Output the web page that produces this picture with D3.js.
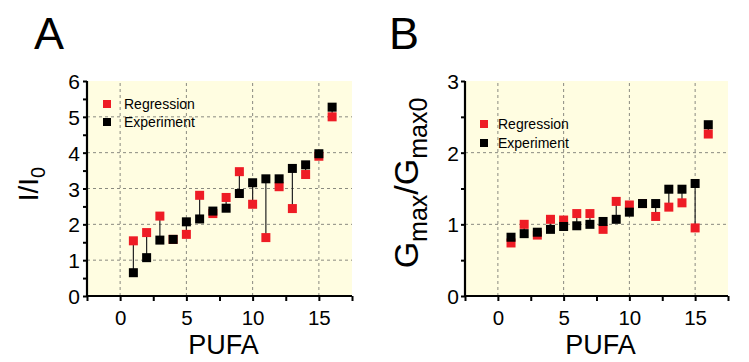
<!DOCTYPE html>
<html>
<head>
<meta charset="utf-8">
<script src="https://cdn.jsdelivr.net/npm/d3@7"></script>
<style>
  html, body { margin: 0; padding: 0; background: #ffffff; }
  svg { display: block; }
  text { font-family: "Liberation Sans", Arial, sans-serif; fill: #000; }
</style>
</head>
<body>
<svg id="chart" width="749" height="362"></svg>
<script>
// ---- data ----
const pufa = [1, 2, 3, 4, 5, 6, 7, 8, 9, 10, 11, 12, 13, 14, 15, 16];
const regressionA = [1.54, 1.77, 2.23, 1.58, 1.72, 2.81, 2.30, 2.75, 3.47, 2.56, 1.63, 3.05, 2.44, 3.39, 3.90, 5.00];
const experimentA = [0.65, 1.07, 1.56, 1.58, 2.07, 2.15, 2.37, 2.45, 2.86, 3.16, 3.27, 3.27, 3.56, 3.66, 3.97, 5.27];
const regressionB = [0.74, 1.00, 0.85, 1.07, 1.06, 1.15, 1.15, 0.93, 1.32, 1.27, 1.29, 1.11, 1.24, 1.30, 0.95, 2.26];
const experimentB = [0.82, 0.87, 0.89, 0.93, 0.97, 0.98, 1.00, 1.04, 1.07, 1.17, 1.29, 1.29, 1.49, 1.49, 1.57, 2.39];
const xTicksMajor = [0, 5, 10, 15];
const xTicksAll = [-2.5, 0, 2.5, 5, 7.5, 10, 12.5, 15, 17.5];
const yTicksA = [0, 0.5, 1, 1.5, 2, 2.5, 3, 3.5, 4, 4.5, 5, 5.5, 6];
const yTicksB = [0, 0.5, 1, 1.5, 2, 2.5, 3];
const legendLabels = ["Regression", "Experiment"];
const colors = { regression: "#ee1c25", experiment: "#000000" };

const svg = d3.select("#chart");

function panel(opts) {
  const g = svg.append("g");
  const x = d3.scaleLinear().domain([-2.5, 17.5]).range([opts.left, opts.right]);
  const y = d3.scaleLinear().domain([0, opts.ymax]).range([296, 81]);

  // background
  g.append("rect")
    .attr("x", x(-2.5)).attr("y", y(opts.ymax))
    .attr("width", x(17.5) - x(-2.5)).attr("height", y(0) - y(opts.ymax))
    .attr("fill", "#fffde1");

  // grid
  g.selectAll(".vg").data(xTicksMajor).join("line")
    .attr("x1", d => x(d)).attr("x2", d => x(d))
    .attr("y1", y(0)).attr("y2", y(opts.ymax))
    .attr("stroke", "#8a8a80").attr("stroke-width", 1).attr("stroke-dasharray", "3,3");
  g.selectAll(".hg").data(d3.range(1, opts.ymax)).join("line")
    .attr("x1", x(-2.5)).attr("x2", x(17.5))
    .attr("y1", d => y(d)).attr("y2", d => y(d))
    .attr("stroke", "#8a8a80").attr("stroke-width", 1).attr("stroke-dasharray", "3,3");

  // x axis
  const xa = g.append("g").attr("transform", `translate(0,${y(0)})`)
    .call(d3.axisBottom(x).tickValues(xTicksAll).tickSize(5).tickPadding(9)
      .tickFormat(d => xTicksMajor.includes(d) ? d3.format("d")(d) : ""));
  xa.select(".domain").attr("stroke-width", 2.2).attr("d", `M${x(-2.5) - 1},0H${x(17.5)}`);
  xa.selectAll(".tick line").attr("stroke-width", 2);
  xa.selectAll(".tick text").style("font-size", "20.5px").style("font-family", "Liberation Sans, Arial, sans-serif");

  // y axis
  const ya = g.append("g").attr("transform", `translate(${x(-2.5)},0)`)
    .call(d3.axisLeft(y).tickValues(opts.yTicks).tickSize(4).tickPadding(opts.ypad)
      .tickFormat(d => Number.isInteger(d) ? d3.format("d")(d) : ""));
  ya.select(".domain").attr("stroke-width", 2.2).attr("d", `M0,${y(opts.ymax)}V${y(0) + 1}`);
  ya.selectAll(".tick line").attr("stroke-width", 2);
  ya.selectAll(".tick text").style("font-size", "21px").style("font-family", "Liberation Sans, Arial, sans-serif")
    .attr("dy", "0.36em");

  // connectors
  g.selectAll(".conn").data(pufa).join("line")
    .attr("x1", d => x(d)).attr("x2", d => x(d))
    .attr("y1", (d, i) => y(opts.reg[i])).attr("y2", (d, i) => y(opts.exp[i]))
    .attr("stroke", "#222").attr("stroke-width", 1.2);

  const s = 9;
  // regression squares
  g.selectAll(".reg").data(pufa).join("rect")
    .attr("x", d => x(d) - s / 2).attr("y", (d, i) => y(opts.reg[i]) - s / 2)
    .attr("width", s).attr("height", s).attr("fill", colors.regression);
  // experiment squares
  g.selectAll(".exp").data(pufa).join("rect")
    .attr("x", d => x(d) - s / 2).attr("y", (d, i) => y(opts.exp[i]) - s / 2)
    .attr("width", s).attr("height", s).attr("fill", colors.experiment);

  // legend
  const lg = g.append("g").attr("transform", `translate(${opts.legX},${opts.legY})`);
  [colors.regression, colors.experiment].forEach((c, i) => {
    lg.append("rect").attr("x", 0).attr("y", i * opts.legDy - 4).attr("width", 8).attr("height", 8).attr("fill", c);
    lg.append("text").attr("x", opts.legTx).attr("y", i * opts.legDy + 5)
      .style("font-size", "14px").text(legendLabels[i]);
  });

  // x title
  g.append("text").attr("x", (x(0) + x(15)) / 2 + 4).attr("y", 354)
    .attr("text-anchor", "middle").style("font-size", "27px").text("PUFA");

  // panel letter
  g.append("text").attr("x", opts.letterX).attr("y", 49)
    .style("font-size", "45px").text(opts.letter);

  return { g, x, y };
}

const A = panel({ left: 87, right: 352, ymax: 6, yTicks: yTicksA, ypad: 3,
  reg: regressionA, exp: experimentA, legX: 103, legY: 104, legDy: 18, legTx: 21,
  letter: "A", letterX: 34 });
const B = panel({ left: 465, right: 728, ymax: 3, yTicks: yTicksB, ypad: 2,
  reg: regressionB, exp: experimentB, legX: 480, legY: 124, legDy: 19, legTx: 18,
  letter: "B", letterX: 389 });

// y titles
const tA = A.g.append("text").attr("transform", "translate(38,184) rotate(-90)")
  .attr("text-anchor", "middle").style("font-size", "28px");
tA.append("tspan").text("I/I");
tA.append("tspan").attr("dy", 7).style("font-size", "20px").text("0");

const tB = B.g.append("text").attr("transform", "translate(418,183) rotate(-90)")
  .attr("text-anchor", "middle").style("font-size", "34px");
tB.append("tspan").text("G");
tB.append("tspan").attr("dy", 9).style("font-size", "25px").text("max");
tB.append("tspan").attr("dy", -9).text("/G");
tB.append("tspan").attr("dy", 9).style("font-size", "25px").text("max0");
</script>
</body>
</html>
